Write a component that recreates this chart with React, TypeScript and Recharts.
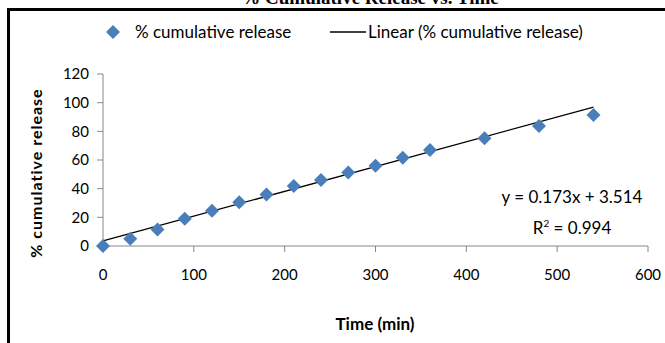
import { ScatterChart, Scatter, XAxis, YAxis, ReferenceLine } from 'recharts'

const times = [0, 30, 60, 90, 120, 150, 180, 210, 240, 270, 300, 330, 360, 420, 480, 540]
const releases = [0, 5, 11.5, 19, 24.6, 30.6, 36, 41.8, 46, 51.2, 56, 61.6, 67, 75.2, 83.7, 91.4]
const xTicks = [0, 100, 200, 300, 400, 500, 600]
const yTicks = [0, 20, 40, 60, 80, 100, 120]
const slope = 0.173
const intercept = 3.514
const rSquared = 0.994

const points = times.map((t, i) => ({ time: t, release: releases[i] }))
const trendStart = { x: times[0], y: intercept + slope * times[0] }
const trendEnd = { x: times[times.length - 1], y: intercept + slope * times[times.length - 1] }

const blue = '#4A7EBB'
const axisGray = '#868686'
const font = 'Lato, "Liberation Sans", sans-serif'

function Diamond(props: any) {
  const { cx, cy } = props
  const r = 7
  return (
    <polygon
      points={`${cx},${cy - r} ${cx + r},${cy} ${cx},${cy + r} ${cx - r},${cy}`}
      fill={blue}
    />
  )
}

export default function App() {
  return (
    <div
      style={{
        position: 'fixed',
        left: 0,
        top: 0,
        width: 665,
        height: 343,
        overflow: 'hidden',
        background: '#fff',
        fontFamily: font,
      }}
    >
      {/* chart title, mostly cut off at the top */}
      <div
        style={{
          position: 'absolute',
          top: -13,
          left: 0,
          width: 740,
          textAlign: 'center',
          fontFamily: '"Liberation Serif", serif',
          fontWeight: 'bold',
          fontSize: 19,
          color: '#000',
        }}
      >
        % Cumulative Release vs. Time
      </div>
      <div
        style={{
          position: 'absolute',
          left: 7,
          top: 8,
          width: 700,
          height: 400,
          border: '3px solid #000',
          background: '#fff',
        }}
      />

      <div style={{ position: 'absolute', left: 0, top: 0 }}>
        <ScatterChart width={665} height={343} margin={{ top: 74, right: 17, bottom: 67, left: 43 }}>
          <XAxis
            type="number"
            dataKey="time"
            domain={[0, 600]}
            ticks={xTicks}
            axisLine={{ stroke: axisGray }}
            tickLine={{ stroke: axisGray }}
            tickSize={6}
            tickMargin={17}
            height={30}
            tick={{ fill: '#000', fontSize: 15, fontFamily: font }}
          />
          <YAxis
            type="number"
            dataKey="release"
            domain={[0, 120]}
            ticks={yTicks}
            axisLine={{ stroke: axisGray }}
            tickLine={{ stroke: axisGray }}
            tickSize={6}
            tickMargin={8}
            width={60}
            tick={{ fill: '#000', fontSize: 15, fontFamily: font }}
          />
          <ReferenceLine
            segment={[trendStart, trendEnd]}
            stroke="#000"
            strokeWidth={1.3}
            ifOverflow="visible"
          />
          <Scatter data={points} shape={<Diamond />} isAnimationActive={false} />
        </ScatterChart>
      </div>

      {/* legend */}
      <svg style={{ position: 'absolute', left: 0, top: 0 }} width={665} height={60}>
        <polygon points="113,25 120,32 113,39 106,32" fill={blue} />
        <line x1={330} y1={32} x2={366} y2={32} stroke="#000" strokeWidth={1.3} />
      </svg>
      <div style={{ position: 'absolute', left: 135, top: 21, fontSize: 17, color: '#000', whiteSpace: 'nowrap' }}>
        % cumulative release
      </div>
      <div style={{ position: 'absolute', left: 368, top: 21, fontSize: 17, color: '#000', whiteSpace: 'nowrap' }}>
        Linear (% cumulative release)
      </div>

      {/* trendline equation */}
      <div
        style={{
          position: 'absolute',
          left: 492,
          top: 184,
          width: 160,
          textAlign: 'center',
          fontSize: 17,
          lineHeight: '26px',
          color: '#000',
        }}
      >
        <div>{`y = ${slope}x + ${intercept}`}</div>
        <div>
          R<sup style={{ fontSize: 10, verticalAlign: 7 }}>2</sup> = {rSquared}
        </div>
      </div>

      {/* axis titles */}
      <div
        style={{
          position: 'absolute',
          left: 35,
          top: 173,
          transform: 'translate(-50%, -50%) rotate(-90deg)',
          fontSize: 16,
          letterSpacing: 1,
          fontWeight: 'bold',
          whiteSpace: 'nowrap',
          color: '#000',
        }}
      >
        % cumulative release
      </div>
      <div
        style={{
          position: 'absolute',
          left: 375,
          top: 323,
          transform: 'translate(-50%, -50%)',
          fontSize: 17,
          fontWeight: 'bold',
          whiteSpace: 'nowrap',
          color: '#000',
        }}
      >
        Time (min)
      </div>
    </div>
  )
}
